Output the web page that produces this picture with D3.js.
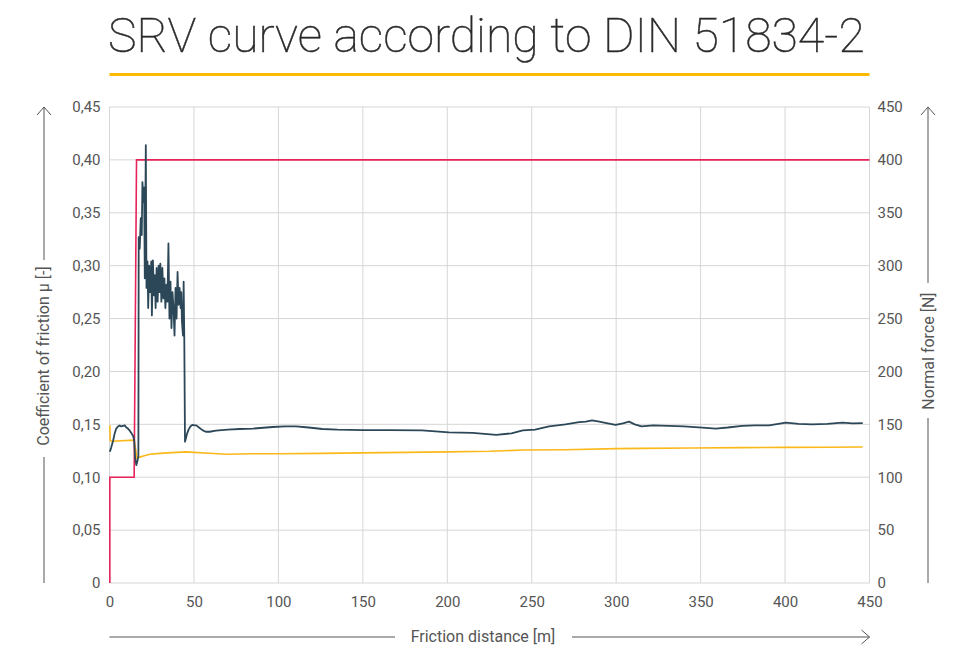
<html>
  <head>
    <title>SRV curve according to DIN 51834-2</title>
    <script src="https://d3js.org/d3.v7.min.js"></script>
    <style>
      body { margin: 0; background: #fff; font-family: Roboto, "Liberation Sans", sans-serif; }
      .tick text { fill: #555; font-size: 15px; }
      .axis-title { fill: #555; font-size: 16px; }
    </style>
  </head>
  <body>
    <svg width="963" height="646"></svg>
    <script>
      // ticks
      var xTicks = [0, 50, 100, 150, 200, 250, 300, 350, 400, 450];
      var muTicks = [0, 0.05, 0.10, 0.15, 0.20, 0.25, 0.30, 0.35, 0.40, 0.45];
      var forceTicks = [0, 50, 100, 150, 200, 250, 300, 350, 400, 450];

      // normal force [N] (right axis)
      var normalForce = [[0.2, 0], [0.2, 100], [14.6, 100], [16, 400], [450, 400]];

      // coefficient of friction (left axis)
      var friction = [
        [0.2, 0.124], [1, 0.128], [2.2, 0.135], [3, 0.141], [4, 0.146], [5, 0.148], [6, 0.149],
        [7, 0.148], [8, 0.1485], [9, 0.149], [10, 0.147], [10.9, 0.146], [12, 0.144], [13, 0.1415],
        [14, 0.139], [14.6, 0.135], [15.2, 0.118], [15.9, 0.1115], [16.5, 0.115], [17.1, 0.12],
        [17.3, 0.327], [17.9, 0.316], [18.5, 0.345], [19.1, 0.329], [19.5, 0.379], [20.1, 0.360],
        [20.5, 0.374], [20.9, 0.288], [21.5, 0.414], [21.9, 0.279], [22.5, 0.304], [22.9, 0.26],
        [23.5, 0.300], [24.1, 0.275], [24.7, 0.304], [25.1, 0.253], [25.7, 0.305], [26.3, 0.272],
        [26.9, 0.291], [27.3, 0.26], [27.9, 0.298], [28.5, 0.266], [29.1, 0.300], [29.7, 0.275],
        [30.1, 0.302], [30.7, 0.266], [31.3, 0.298], [31.9, 0.269], [32.5, 0.288], [33.1, 0.26],
        [33.7, 0.282], [34.3, 0.266], [34.9, 0.321], [35.5, 0.250], [36.1, 0.285], [36.7, 0.241],
        [37.3, 0.275], [37.9, 0.26], [38.5, 0.234], [39.1, 0.279], [39.7, 0.25], [40.3, 0.294],
        [40.9, 0.263], [41.5, 0.279], [42.1, 0.26], [42.5, 0.275], [42.9, 0.247], [43.5, 0.234],
        [43.9, 0.285], [44.3, 0.228], [44.7, 0.1336], [45.3, 0.137], [45.9, 0.141], [46.8, 0.145],
        [47.9, 0.148], [49, 0.1495], [50.4, 0.149], [51.4, 0.149], [53, 0.147], [55, 0.1445],
        [57, 0.143], [59.3, 0.143], [63, 0.144], [70, 0.145], [77, 0.1456], [85, 0.146],
        [96.6, 0.1475], [104, 0.148], [110.4, 0.148], [118, 0.147], [126, 0.1456], [135, 0.145],
        [150, 0.1446], [165, 0.1445], [185, 0.1443], [201, 0.1424], [215, 0.142], [229, 0.140],
        [238, 0.1415], [244.7, 0.1443], [252, 0.145], [260.3, 0.148], [270, 0.150], [278, 0.152],
        [282, 0.1525], [285.7, 0.1538], [290, 0.1525], [295, 0.151], [299.7, 0.1494], [304, 0.151],
        [307.6, 0.1525], [311, 0.150], [315, 0.148], [322, 0.149], [331, 0.1486], [340, 0.148],
        [351, 0.1468], [359, 0.146], [366, 0.147], [374.6, 0.1486], [382, 0.149], [390.6, 0.149],
        [400.5, 0.1516], [408, 0.1505], [416, 0.150], [425, 0.1505], [434, 0.1516], [440, 0.151],
        [446, 0.1512]
      ];

      // yellow trace (left axis scale)
      var yellowTrace = [
        [0.2, 0.149], [0.4, 0.135], [1, 0.134], [14.6, 0.135], [16.3, 0.118], [18, 0.119],
        [20, 0.120], [24, 0.1217], [30, 0.1225], [34, 0.123], [40, 0.1235], [45, 0.124],
        [50, 0.1235], [59, 0.1226], [69, 0.1217], [85, 0.1222], [100, 0.1222], [125, 0.1225],
        [150, 0.123], [175, 0.1235], [200, 0.124], [225, 0.1245], [245, 0.1257], [270, 0.126],
        [300, 0.127], [315, 0.1273], [345, 0.1276], [374, 0.128], [400, 0.1282], [425, 0.1284],
        [446, 0.1286]
      ];

      var svg = d3.select("svg");
      var plotLeft = 109.5, plotRight = 869.5, plotTop = 107, plotBottom = 583;

      var x = d3.scaleLinear().domain([0, 450]).range([plotLeft, plotRight]);
      var yMu = d3.scaleLinear().domain([0, 0.45]).range([plotBottom, plotTop]);
      var yForce = d3.scaleLinear().domain([0, 450]).range([plotBottom, plotTop]);

      var fmt = function(d){ return d === 0 ? "0" : d3.format(".2f")(d).replace(".", ","); };

      // title
      var title = svg.append("text")
        .attr("x", 108).attr("y", 52)
        .style("font-family", "Roboto, sans-serif")
        .style("font-weight", 100)
        .style("font-size", "48px")
        .attr("fill", "#2a2a2a")
        .attr("stroke", "#2a2a2a").attr("stroke-width", 0.5)
        .text("SRV curve according to DIN 51834-2");
      var w = title.node().getComputedTextLength();
      title.style("font-size", (48 * 757 / w) + "px");

      svg.append("rect").attr("x", plotLeft).attr("y", 73).attr("width", plotRight - plotLeft).attr("height", 3)
        .attr("fill", "#fbba00");

      // grid
      var grid = svg.append("g").attr("stroke", "#d6d6d6").attr("stroke-width", 1);
      grid.selectAll(".v").data(xTicks).enter().append("line")
        .attr("x1", d => x(d)).attr("x2", d => x(d)).attr("y1", plotTop).attr("y2", plotBottom);
      grid.selectAll(".h").data(muTicks).enter().append("line")
        .attr("x1", plotLeft).attr("x2", plotRight).attr("y1", d => yMu(d)).attr("y2", d => yMu(d));

      // axes
      var ax = svg.append("g").attr("transform", "translate(0," + plotBottom + ")")
        .call(d3.axisBottom(x).tickValues(xTicks).tickSize(0).tickPadding(13).tickFormat(d3.format("d")));
      var ay = svg.append("g").attr("transform", "translate(" + (plotLeft - 9) + ",0)")
        .call(d3.axisLeft(yMu).tickValues(muTicks).tickSize(0).tickPadding(0).tickFormat(fmt));
      var ay2 = svg.append("g").attr("transform", "translate(" + (plotRight + 8) + ",0)")
        .call(d3.axisRight(yForce).tickValues(forceTicks).tickSize(0).tickPadding(0).tickFormat(d3.format("d")));
      [ax, ay, ay2].forEach(function(a){ a.select(".domain").remove(); a.attr("font-family", null).attr("font-size", null); });

      // lines
      var lineMu = d3.line().x(d => x(d[0])).y(d => yMu(d[1]));
      var lineF = d3.line().x(d => x(d[0])).y(d => yForce(d[1]));

      svg.append("path").datum(yellowTrace).attr("d", lineMu)
        .attr("fill", "none").attr("stroke", "#fbb81a").attr("stroke-width", 1.6);
      svg.append("path").datum(normalForce).attr("d", lineF)
        .attr("fill", "none").attr("stroke", "#e6245a").attr("stroke-width", 1.6);
      svg.append("path").datum(friction).attr("d", lineMu)
        .attr("fill", "none").attr("stroke", "#2c4858").attr("stroke-width", 1.8)
        .attr("stroke-linejoin", "round");

      // axis titles with arrows
      var arrows = svg.append("g").attr("stroke", "#555").attr("stroke-width", 1).attr("fill", "none");
      // left
      arrows.append("line").attr("x1", 44).attr("x2", 44).attr("y1", plotBottom).attr("y2", 457);
      arrows.append("line").attr("x1", 44).attr("x2", 44).attr("y1", 260).attr("y2", plotTop);
      arrows.append("path").attr("d", "M37," + (plotTop + 8) + "L44," + plotTop + "L51," + (plotTop + 8));
      svg.append("text").attr("class", "axis-title")
        .attr("transform", "translate(49,356) rotate(-90)").attr("text-anchor", "middle")
        .text("Coefficient of friction μ [-]");
      // right
      arrows.append("line").attr("x1", 928).attr("x2", 928).attr("y1", plotTop).attr("y2", 283);
      arrows.append("line").attr("x1", 928).attr("x2", 928).attr("y1", 418).attr("y2", plotBottom);
      arrows.append("path").attr("d", "M921," + (plotTop + 8) + "L928," + plotTop + "L935," + (plotTop + 8));
      svg.append("text").attr("class", "axis-title")
        .attr("transform", "translate(934,351) rotate(-90)").attr("text-anchor", "middle")
        .text("Normal force [N]");
      // bottom
      arrows.append("line").attr("x1", plotLeft).attr("x2", 395).attr("y1", 637).attr("y2", 637);
      arrows.append("line").attr("x1", 572).attr("x2", plotRight).attr("y1", 637).attr("y2", 637);
      arrows.append("path").attr("d", "M" + (plotRight - 8) + ",630L" + plotRight + ",637L" + (plotRight - 8) + ",644");
      svg.append("text").attr("class", "axis-title")
        .attr("x", 483).attr("y", 642).attr("text-anchor", "middle")
        .text("Friction distance [m]");
    </script>
  </body>
</html>
